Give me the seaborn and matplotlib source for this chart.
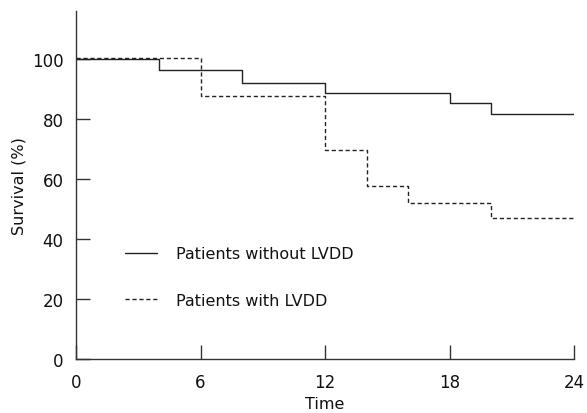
import numpy as np
import pandas as pd
import matplotlib
matplotlib.use('Agg')
import matplotlib.pyplot as plt
import seaborn as sns

# step points
time_without = [0, 4, 8, 12, 18, 20, 24]
surv_without = [100, 96.2, 92.1, 88.8, 85.2, 81.7, 81.7]
time_with = [0, 6, 12, 14, 16, 20, 24]
surv_with = [100.3, 87.7, 69.8, 57.6, 52.0, 46.9, 46.9]
labels = ['Patients without LVDD', 'Patients with LVDD']
x_ticks = [0, 6, 12, 18, 24]
y_ticks = [0, 20, 40, 60, 80, 100]

df = pd.concat([
    pd.DataFrame({'Time': time_without, 'Survival': surv_without, 'group': labels[0]}),
    pd.DataFrame({'Time': time_with, 'Survival': surv_with, 'group': labels[1]}),
])

sns.set_style('ticks')
plt.rcParams['font.family'] = ['DejaVu Sans']

fig = plt.figure(figsize=(5.87, 4.14), dpi=100)
ax = fig.add_axes([76 / 587, 1 - 360 / 414, 498 / 587, 348 / 414])

sns.lineplot(data=df, x='Time', y='Survival', style='group', color='#222222',
             dashes={labels[0]: '', labels[1]: (3, 2)}, drawstyle='steps-post',
             linewidth=1.0, errorbar=None, ax=ax)

ax.set_xlim(0, 24)
ax.set_ylim(0, 116)
ax.set_xticks(x_ticks)
ax.set_yticks(y_ticks)
ax.tick_params(direction='in', length=10, width=1, color='#333333',
               labelsize=12, colors='#111111')
ax.tick_params(axis='y', pad=9)
ax.tick_params(axis='x', pad=10)
for s in ['top', 'right']:
    ax.spines[s].set_visible(False)
for s in ['left', 'bottom']:
    ax.spines[s].set_color('#333333')
    ax.spines[s].set_linewidth(1)

ax.set_xlabel('Time', fontsize=11.5, labelpad=4, color='#111111')
ax.set_ylabel('Survival (%)', fontsize=11.5, labelpad=4, color='#111111')

leg = ax.legend(title=None, frameon=False, fontsize=11.5, handlelength=2.0,
                handletextpad=1.2, labelspacing=1.95,
                loc='upper left', bbox_to_anchor=(0.07, 0.365))
for t in leg.get_texts():
    t.set_color('#111111')

fig.savefig('out.png', dpi=100)
